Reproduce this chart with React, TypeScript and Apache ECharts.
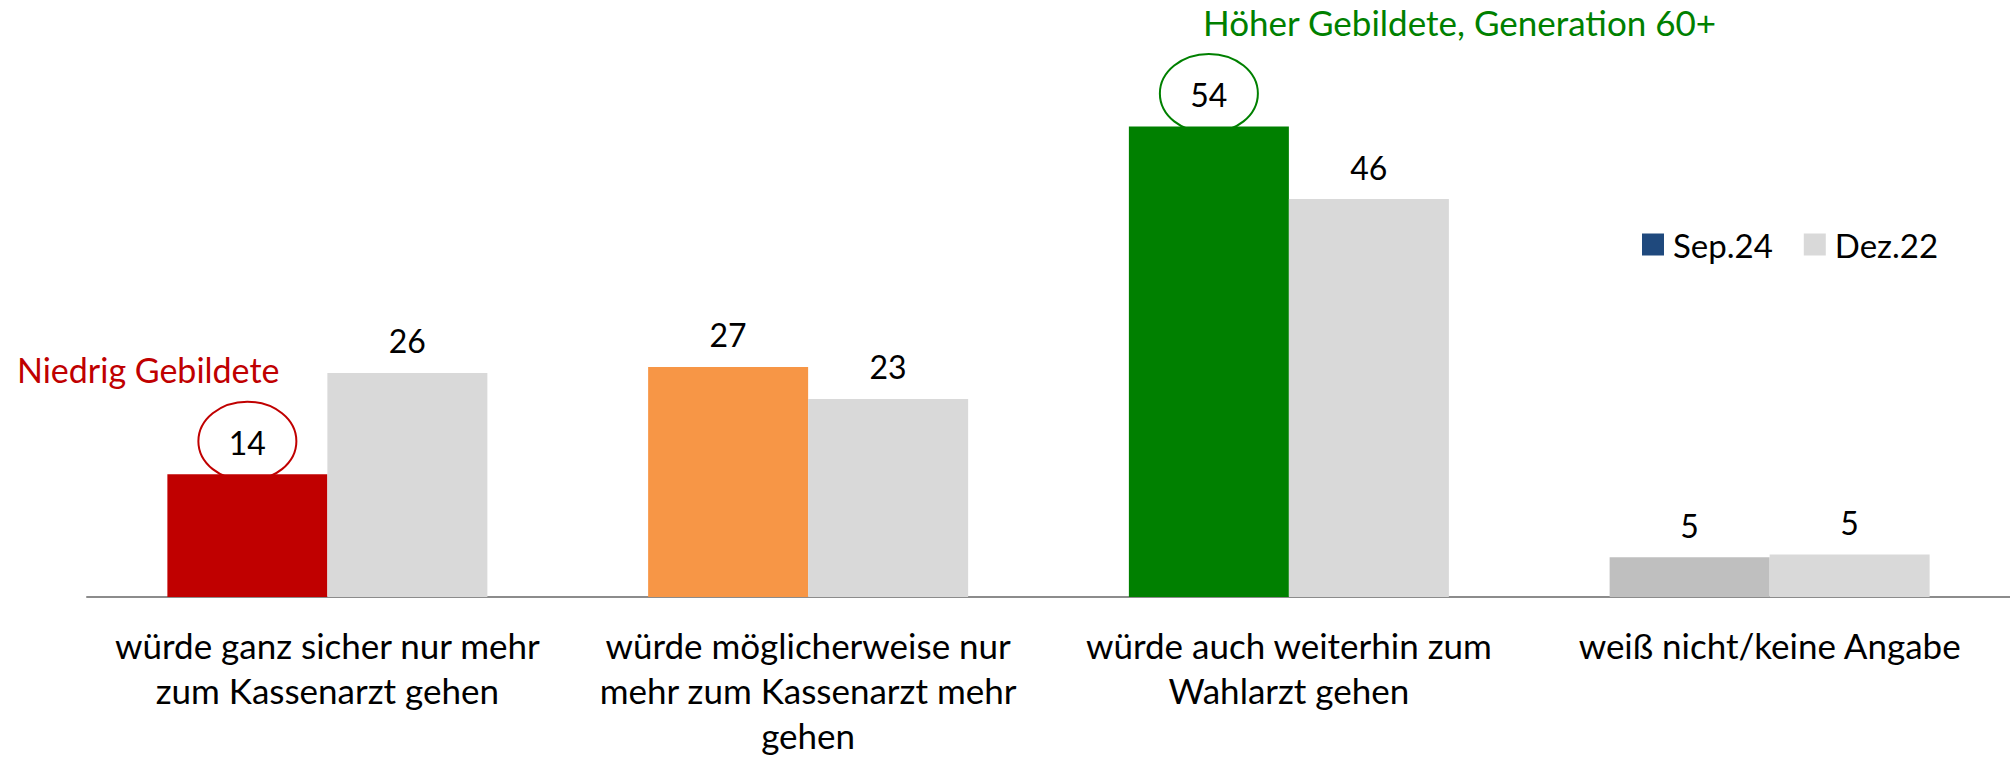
import React, { useEffect, useRef } from "react";
import * as echarts from "echarts";

const categories = [
  "würde ganz sicher nur mehr\nzum Kassenarzt gehen",
  "würde möglicherweise nur\nmehr zum Kassenarzt mehr\ngehen",
  "würde auch weiterhin zum\nWahlarzt gehen",
  "weiß nicht/keine Angabe",
];
const seriesNames = ["Sep.24", "Dez.22"];
const sep24 = [14.2, 26.6, 54.4, 4.6];
const dez22 = [25.9, 22.9, 46.0, 4.9];
const sepColors = ["#C00000", "#F79646", "#008000", "#BFBFBF"];
const legendColors = ["#1F497D", "#D9D9D9"];
const annotationTexts = ["Niedrig Gebildete", "Höher Gebildete, Generation 60+"];
const annotationColors = ["#C00000", "#008000"];
const circledIndex = [0, 2];

const FONT = "Lato, 'Noto Sans', sans-serif";

export default function App() {
  const ref = useRef<HTMLDivElement>(null);
  useEffect(() => {
    document.body.style.margin = "0";
    const chart = echarts.init(ref.current!, undefined, { renderer: "svg" });
    const BAR_W = 160;
    const valueLabel = {
      show: true,
      position: "top",
      distance: 16,
      fontSize: 32,
      color: "#000",
      fontFamily: FONT,
      formatter: (p: any) => String(Math.round(p.value)),
    };
    chart.setOption({
      animation: false,
      textStyle: { fontFamily: FONT },
      grid: {
        left: 87,
        right: 0,
        top: 78,
        bottom: 160,
        containLabel: false,
        outerBoundsMode: "none",
      },
      legend: {
        data: seriesNames,
        left: 1642,
        top: 228,
        padding: 0,
        itemWidth: 22,
        itemHeight: 22,
        itemGap: 31,
        icon: "rect",
        textStyle: { fontSize: 33, color: "#000", fontFamily: FONT, padding: [0, 0, 0, 4] },
      },
      xAxis: {
        type: "category",
        data: categories,
        axisLine: { lineStyle: { color: "#8C8C8C", width: 2 } },
        axisTick: { show: false },
        axisLabel: {
          interval: 0,
          fontSize: 35,
          lineHeight: 45,
          color: "#000",
          margin: 25,
          fontFamily: FONT,
        },
      },
      yAxis: {
        type: "value",
        min: 0,
        max: 60,
        show: false,
        splitLine: { show: false },
      },
      series: [
        {
          name: seriesNames[0],
          type: "bar",
          barWidth: BAR_W,
          barGap: "0%",
          itemStyle: { color: legendColors[0] },
          data: sep24.map((v, i) => ({ value: v, itemStyle: { color: sepColors[i] } })),
          label: valueLabel,
        },
        {
          name: seriesNames[1],
          type: "bar",
          barWidth: BAR_W,
          barGap: "0%",
          itemStyle: { color: legendColors[1] },
          data: dez22,
          label: valueLabel,
        },
      ],
    });

    const graphics: any[] = [];
    circledIndex.forEach((ci, k) => {
      const cx = (chart.convertToPixel({ xAxisIndex: 0 }, ci) as number) - BAR_W / 2;
      const top = chart.convertToPixel({ yAxisIndex: 0 }, sep24[ci]) as number;
      const cy = top - 33;
      graphics.push({
        type: "ellipse",
        z: 0,
        shape: { cx, cy, rx: 49, ry: 39.5 },
        style: { fill: "#fff", stroke: annotationColors[k], lineWidth: 2 },
      });
    });
    graphics.push({
      type: "text",
      left: 17,
      top: 352,
      style: { text: annotationTexts[0], fontSize: 34, fill: annotationColors[0], fontFamily: FONT },
    });
    graphics.push({
      type: "text",
      left: 1203,
      top: 4,
      style: { text: annotationTexts[1], fontSize: 35, fill: annotationColors[1], fontFamily: FONT },
    });
    chart.setOption({ graphic: graphics });

    return () => chart.dispose();
  }, []);
  return <div ref={ref} style={{ width: 2010, height: 757 }} />;
}
